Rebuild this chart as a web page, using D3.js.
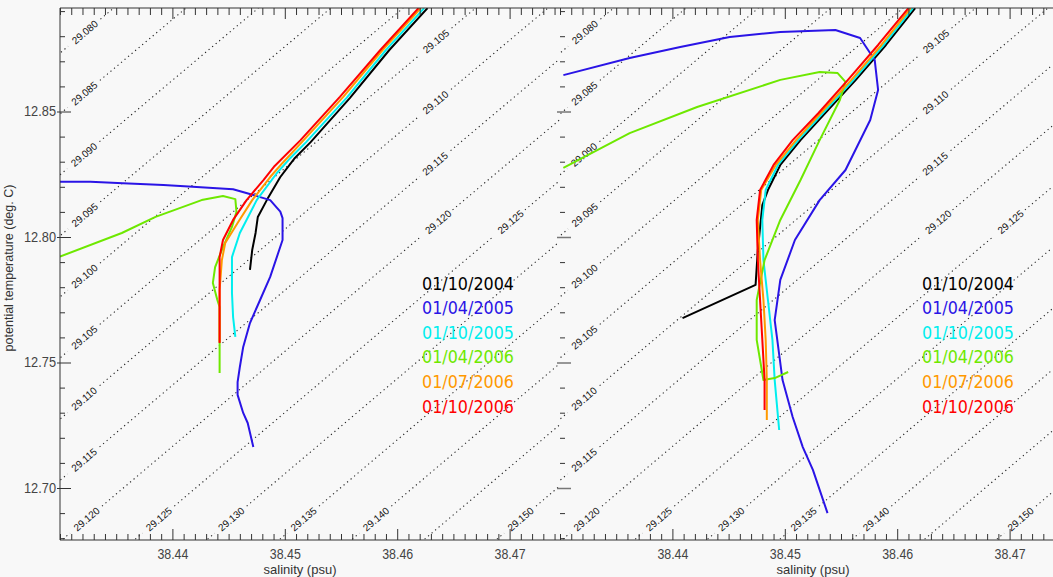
<!DOCTYPE html>
<html>
<head>
<meta charset="utf-8">
<script src="https://cdn.jsdelivr.net/npm/d3@7"></script>
<style>
  body { margin: 0; background: #f8f8f8; }
  svg { display: block; font-family: "Liberation Sans", Arial, sans-serif; }
</style>
</head>
<body>
<div id="chart"></div>
<script>
// potential density levels (sigma-theta) drawn as dotted isopycnals
const sigmaLevels = [29.080, 29.085, 29.090, 29.095, 29.100, 29.105, 29.110, 29.115,
	29.120, 29.125, 29.130, 29.135, 29.140, 29.145, 29.150, 29.155];
// levels whose label is not printed
const unlabelled = [29.145];

const xTicks = [38.44, 38.45, 38.46, 38.47];
const yTicks = [12.70, 12.75, 12.80, 12.85];

const seriesDates = ["01/10/2004", "01/04/2005", "01/10/2005", "01/04/2006", "01/07/2006", "01/10/2006"];

// [salinity, potential temperature]
const leftOct2004 = [[38.4627,12.8912],[38.4593,12.8745],[38.4558,12.8554],[38.4523,12.8378],[38.4509,12.8315],[38.4496,12.8239],[38.4484,12.8147],[38.4476,12.8080],[38.4474,12.8016],[38.4471,12.7948],[38.4469,12.7869]];
const leftApr2005 = [[38.4300,12.8220],[38.4327,12.8220],[38.4356,12.8214],[38.4392,12.8207],[38.4418,12.8200],[38.4454,12.8190],[38.4472,12.8167],[38.4487,12.8147],[38.4496,12.8101],[38.4498,12.8075],[38.4498,12.7988],[38.4487,12.7841],[38.4478,12.7749],[38.4469,12.7657],[38.4463,12.7562],[38.4460,12.7482],[38.4458,12.7422],[38.4458,12.7371],[38.4463,12.7299],[38.4467,12.7259],[38.4472,12.7163]];
const leftOct2005 = [[38.4624,12.8912],[38.4590,12.8745],[38.4555,12.8554],[38.4519,12.8378],[38.4505,12.8315],[38.4493,12.8255],[38.4475,12.8147],[38.4460,12.8016],[38.4453,12.7920],[38.4453,12.7777],[38.4454,12.7681],[38.4456,12.7602]];
const leftApr2006 = [[38.4300,12.7922],[38.4355,12.8016],[38.4385,12.8080],[38.4426,12.8147],[38.4445,12.8163],[38.4456,12.8151],[38.4457,12.8100],[38.4453,12.8040],[38.4445,12.7960],[38.4438,12.7880],[38.4436,12.7817],[38.4440,12.7749],[38.4442,12.7721],[38.4442,12.7562],[38.4442,12.7458]];
const leftJul2006 = [[38.4621,12.8912],[38.4587,12.8745],[38.4552,12.8558],[38.4516,12.8382],[38.4498,12.8295],[38.4487,12.8239],[38.4471,12.8147],[38.4458,12.8056],[38.4447,12.7976],[38.4444,12.7908],[38.4442,12.7789],[38.4442,12.7582]];
const leftOct2006 = [[38.4619,12.8912],[38.4585,12.8745],[38.4549,12.8558],[38.4514,12.8386],[38.4491,12.8283],[38.4481,12.8227],[38.4466,12.8147],[38.4454,12.8068],[38.4445,12.7988],[38.4442,12.7920],[38.4442,12.7817],[38.4442,12.7578]];

const rightOct2004 = [[38.4616,12.8912],[38.4590,12.8765],[38.4563,12.8625],[38.4536,12.8494],[38.4514,12.8386],[38.4496,12.8287],[38.4485,12.8187],[38.4480,12.8127],[38.4476,12.7948],[38.4474,12.7809],[38.4409,12.7677]];
const rightApr2005 = [[38.4303,12.8645],[38.4362,12.8713],[38.4407,12.8757],[38.4451,12.8797],[38.4496,12.8817],[38.4545,12.8825],[38.4567,12.8793],[38.4580,12.8705],[38.4583,12.8586],[38.4576,12.8466],[38.4554,12.8267],[38.4531,12.8147],[38.4509,12.7988],[38.4496,12.7829],[38.4491,12.7669],[38.4498,12.7430],[38.4507,12.7283],[38.4516,12.7163],[38.4525,12.7072],[38.4538,12.6900]];
const rightOct2005 = [[38.4614,12.8912],[38.4588,12.8765],[38.4561,12.8625],[38.4534,12.8494],[38.4512,12.8386],[38.4494,12.8287],[38.4483,12.8187],[38.4480,12.8068],[38.4481,12.7908],[38.4485,12.7749],[38.4489,12.7590],[38.4491,12.7430],[38.4495,12.7231]];
const rightApr2006 = [[38.4303,12.8275],[38.4362,12.8414],[38.4422,12.8518],[38.4496,12.8626],[38.4531,12.8657],[38.4547,12.8653],[38.4554,12.8618],[38.4549,12.8546],[38.4531,12.8386],[38.4514,12.8227],[38.4496,12.8068],[38.4482,12.7908],[38.4475,12.7749],[38.4475,12.7590],[38.4481,12.7430],[38.4491,12.7438],[38.4503,12.7462]];
const rightJul2006 = [[38.4612,12.8912],[38.4586,12.8765],[38.4559,12.8625],[38.4532,12.8494],[38.4510,12.8386],[38.4492,12.8287],[38.4479,12.8187],[38.4476,12.8068],[38.4478,12.7908],[38.4481,12.7749],[38.4483,12.7590],[38.4484,12.7430],[38.4484,12.7271]];
const rightOct2006 = [[38.4610,12.8912],[38.4583,12.8765],[38.4556,12.8625],[38.4530,12.8494],[38.4507,12.8386],[38.4490,12.8287],[38.4478,12.8187],[38.4475,12.8068],[38.4476,12.7908],[38.4478,12.7749],[38.4480,12.7590],[38.4482,12.7430],[38.4482,12.7311]];

const colors = ["#000000", "#2a14e6", "#00eeee", "#6ee800", "#ff9900", "#ff0000"];

const W = 1053, H = 577;
const plotTop = 8, plotBottom = 540;
const panels = [
	{ x0: 60, width: 500, series: [leftOct2004, leftApr2005, leftOct2005, leftApr2006, leftJul2006, leftOct2006], yLabels: true, titleX: 240 },
	{ x0: 560, width: 493, series: [rightOct2004, rightApr2005, rightOct2005, rightApr2006, rightJul2006, rightOct2006], yLabels: false, titleX: 253 }
];

const svg = d3.select("#chart").append("svg")
	.attr("width", W)
	.attr("height", H);

svg.append("rect").attr("width", W).attr("height", H).attr("fill", "#f8f8f8");

// same scales for both panels (local coordinates)
const x = d3.scaleLinear().domain([38.43, 38.47]).range([0, 449.6]);
const y = d3.scaleLinear().domain([12.70, 12.85]).range([488, 111.5]);

// UNESCO EOS-80 at surface pressure
function sigmaTheta(S, T) {
	const T2 = T * T, T3 = T2 * T, T4 = T3 * T, T5 = T4 * T;
	const rw = 999.842594 + 6.793952e-2 * T - 9.095290e-3 * T2 + 1.001685e-4 * T3 - 1.120083e-6 * T4 + 6.536332e-9 * T5;
	const A = 8.24493e-1 - 4.0899e-3 * T + 7.6438e-5 * T2 - 8.2467e-7 * T3 + 5.3875e-9 * T4;
	const B = -5.72466e-3 + 1.0227e-4 * T - 1.6546e-6 * T2;
	const C = 4.8314e-4;
	return rw + A * S + B * Math.pow(S, 1.5) + C * S * S - 1000;
}

function salinityFor(level, T) {
	let S = 38.45;
	for (let i = 0; i < 20; i++) {
		const f = sigmaTheta(S, T) - level;
		const d = (sigmaTheta(S + 1e-4, T) - sigmaTheta(S - 1e-4, T)) / 2e-4;
		S -= f / d;
	}
	return S;
}

const line = d3.line();

panels.forEach((p, pi) => {
	const g = svg.append("g").attr("transform", `translate(${p.x0},0)`);

	const clipId = "clip" + pi;
	g.append("clipPath").attr("id", clipId)
		.append("rect").attr("x", 0).attr("y", plotTop).attr("width", p.width).attr("height", plotBottom - plotTop);

	const plot = g.append("g").attr("clip-path", `url(#${clipId})`);

	// isopycnals
	const iso = plot.append("g").attr("class", "isopycnals");
	sigmaLevels.forEach(level => {
		const pts = [];
		for (let T = 12.60; T <= 12.95; T += 0.0004) {
			const px = x(salinityFor(level, T)), py = y(T);
			if (px >= 0 && px <= p.width && py >= plotTop && py <= plotBottom) pts.push([px, py]);
		}
		if (pts.length < 2) return;
		// arc length
		const s = [0];
		for (let i = 1; i < pts.length; i++) {
			s.push(s[i - 1] + Math.hypot(pts[i][0] - pts[i - 1][0], pts[i][1] - pts[i - 1][1]));
		}
		const total = s[s.length - 1];
		const labelAt = unlabelled.some(u => Math.abs(u - level) < 1e-6) ? []
			: [30, 490].filter(d => d < total - 12);
		const gap = 20;

		// split into visible runs
		let run = [];
		const runs = [];
		pts.forEach((pt, i) => {
			const hidden = labelAt.some(l => Math.abs(s[i] - l) < gap);
			if (hidden) {
				if (run.length > 1) runs.push(run);
				run = [];
			} else run.push(pt);
		});
		if (run.length > 1) runs.push(run);

		iso.selectAll(null).data(runs).enter()
			.append("path")
			.attr("d", line)
			.attr("fill", "none")
			.attr("stroke", "#222")
			.attr("stroke-width", 1.1)
			.attr("stroke-dasharray", "1.2,3.4");

		labelAt.forEach(l => {
			const i = d3.bisectLeft(s, l);
			const a = pts[Math.max(i - 3, 0)], b = pts[Math.min(i + 3, pts.length - 1)];
			const ang = Math.atan2(b[1] - a[1], b[0] - a[0]) * 180 / Math.PI;
			iso.append("text")
				.attr("transform", `translate(${pts[i][0]},${pts[i][1]}) rotate(${ang})`)
				.attr("text-anchor", "middle")
				.attr("dy", "0.35em")
				.attr("font-size", 10)
				.attr("fill", "#111")
				.text(level.toFixed(3));
		});
	});

	// T-S curves
	p.series.forEach((data, i) => {
		plot.append("path")
			.datum(data)
			.attr("d", d3.line().x(d => x(d[0])).y(d => y(d[1])))
			.attr("fill", "none")
			.attr("stroke", colors[i])
			.attr("stroke-width", 2)
			.attr("stroke-linejoin", "round");
	});

	// legend
	seriesDates.forEach((label, i) => {
		g.append("text")
			.attr("x", 362)
			.attr("y", 289.5 + i * 24.6)
			.attr("font-family", "DejaVu Sans, sans-serif")
			.attr("font-size", 18)
			.attr("textLength", 92)
			.attr("lengthAdjust", "spacingAndGlyphs")
			.attr("fill", colors[i])
			.text(label);
	});

	// axes
	const minorX = d3.range(0, 45).map(i => +(38.43 + i * 0.001).toFixed(3))
		.filter(v => !xTicks.some(t => Math.abs(t - v) < 1e-6) && x(v) <= p.width);
	const minorY = d3.range(0, 22).map(i => +(12.68 + i * 0.01).toFixed(2))
		.filter(v => !yTicks.some(t => Math.abs(t - v) < 1e-6) && y(v) >= plotTop && y(v) <= plotBottom);

	const axisColor = "#333";

	const bottomMajor = g.append("g").attr("transform", `translate(0,${plotBottom})`)
		.call(d3.axisBottom(x).tickValues(xTicks).tickSize(-11).tickPadding(9).tickFormat(d3.format(".2f")));
	bottomMajor.select(".domain").attr("d", `M0,0H${p.width}`);
	g.append("g").attr("transform", `translate(0,${plotBottom})`)
		.call(d3.axisBottom(x).tickValues(minorX).tickSize(-6).tickFormat(""))
		.select(".domain").remove();

	const topMajor = g.append("g").attr("transform", `translate(0,${plotTop})`)
		.call(d3.axisTop(x).tickValues(xTicks).tickSize(-11).tickFormat(""));
	topMajor.select(".domain").attr("d", `M0,0H${p.width}`);
	g.append("g").attr("transform", `translate(0,${plotTop})`)
		.call(d3.axisTop(x).tickValues(minorX).tickSize(-7).tickFormat(""))
		.select(".domain").remove();

	const leftMajor = g.append("g")
		.call(d3.axisLeft(y).tickValues(yTicks).tickSize(-11).tickPadding(4).tickFormat(p.yLabels ? d3.format(".2f") : ""));
	leftMajor.selectAll(".tick line").attr("x1", -3);
	if (p.yLabels) leftMajor.select(".domain").attr("d", `M0,${plotTop}V${plotBottom}`);
	else leftMajor.select(".domain").remove();
	g.append("g")
		.call(d3.axisLeft(y).tickValues(minorY).tickSize(-5).tickFormat(""))
		.select(".domain").remove();

	g.selectAll(".domain, .tick line").attr("stroke", axisColor);
	if (!p.yLabels) leftMajor.selectAll(".tick line").attr("stroke", "#777").attr("stroke-width", 1.5);
	g.selectAll(".tick text")
		.attr("font-size", 14)
		.attr("fill", "#444")
		.attr("font-family", "Liberation Sans, Arial, sans-serif");
	bottomMajor.selectAll(".tick text").attr("textLength", 31).attr("lengthAdjust", "spacingAndGlyphs");
	leftMajor.selectAll(".tick text").attr("textLength", 32).attr("lengthAdjust", "spacingAndGlyphs");

	g.append("text")
		.attr("x", p.titleX)
		.attr("y", 574)
		.attr("text-anchor", "middle")
		.attr("font-size", 13)
		.attr("fill", "#333")
		.text("salinity (psu)");
});

svg.append("text")
	.attr("transform", "translate(13,268) rotate(-90)")
	.attr("text-anchor", "middle")
	.attr("font-size", 12.5)
	.attr("fill", "#333")
	.text("potential temperature (deg. C)");
</script>
</body>
</html>
